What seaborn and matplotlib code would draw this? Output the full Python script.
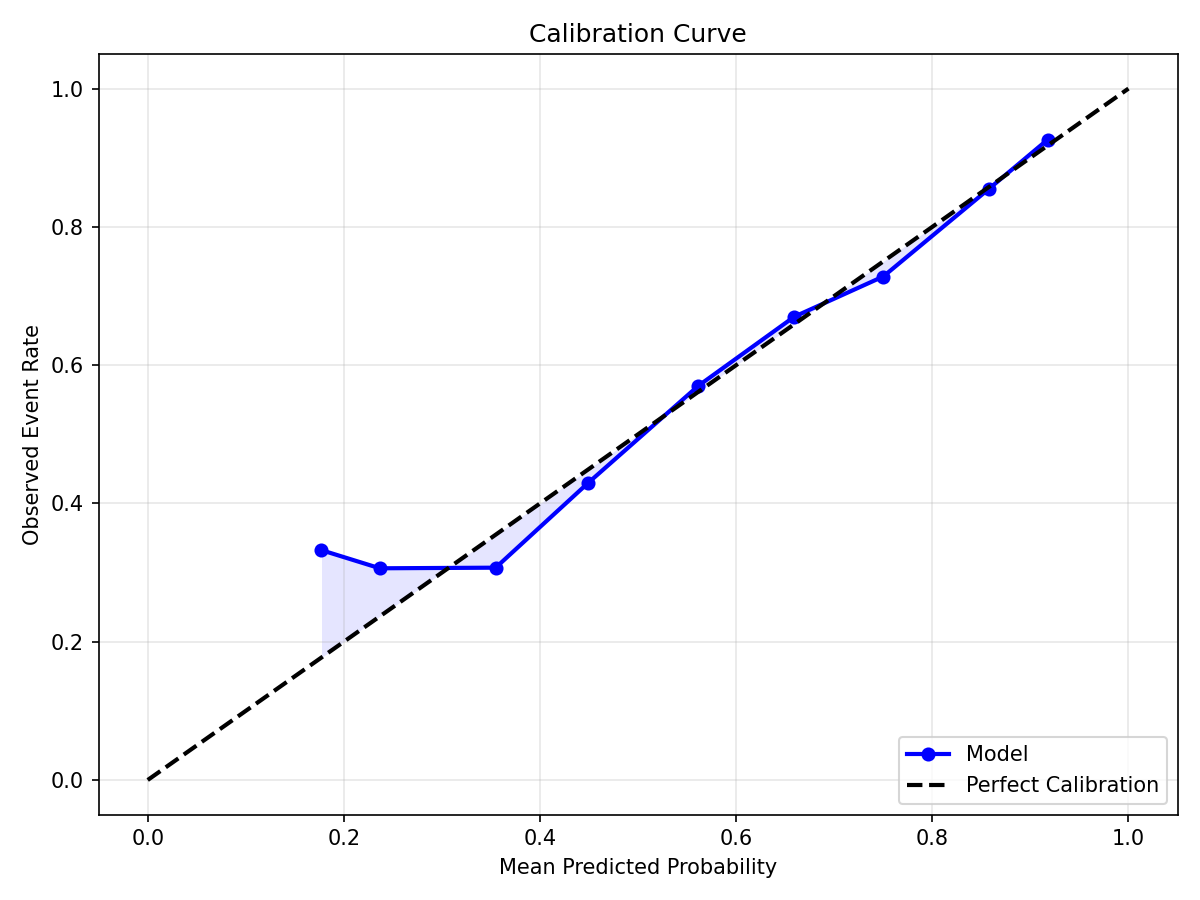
import matplotlib
matplotlib.use("Agg")
import matplotlib.pyplot as plt
import seaborn as sns
import numpy as np
import pandas as pd

mean_pred = [0.1772, 0.2367, 0.3548, 0.4487, 0.5615, 0.6592, 0.7500, 0.8575, 0.9177]
observed = [0.3324, 0.3062, 0.3071, 0.4292, 0.5702, 0.6700, 0.7282, 0.8547, 0.9263]
diag = [0.0, 1.0]

df = pd.DataFrame({"x": mean_pred, "y": observed})

fig, ax = plt.subplots(figsize=(8, 6), dpi=150)
sns.lineplot(data=df, x="x", y="y", ax=ax, color="blue", marker="o",
             markersize=6, markeredgecolor="blue", linewidth=2, label="Model", sort=False)
sns.lineplot(x=diag, y=diag, ax=ax, color="black", linestyle="--", linewidth=2,
             label="Perfect Calibration")
ax.fill_between(mean_pred, observed, mean_pred, color="blue", alpha=0.1, linewidth=0)

ax.set_title("Calibration Curve", fontsize=12)
ax.set_xlabel("Mean Predicted Probability", fontsize=10)
ax.set_ylabel("Observed Event Rate", fontsize=10)
ax.tick_params(labelsize=10)
ax.grid(True, alpha=0.3)
ax.legend(loc="lower right", fontsize=10)
fig.tight_layout()
fig.savefig("out.png", dpi=150)
